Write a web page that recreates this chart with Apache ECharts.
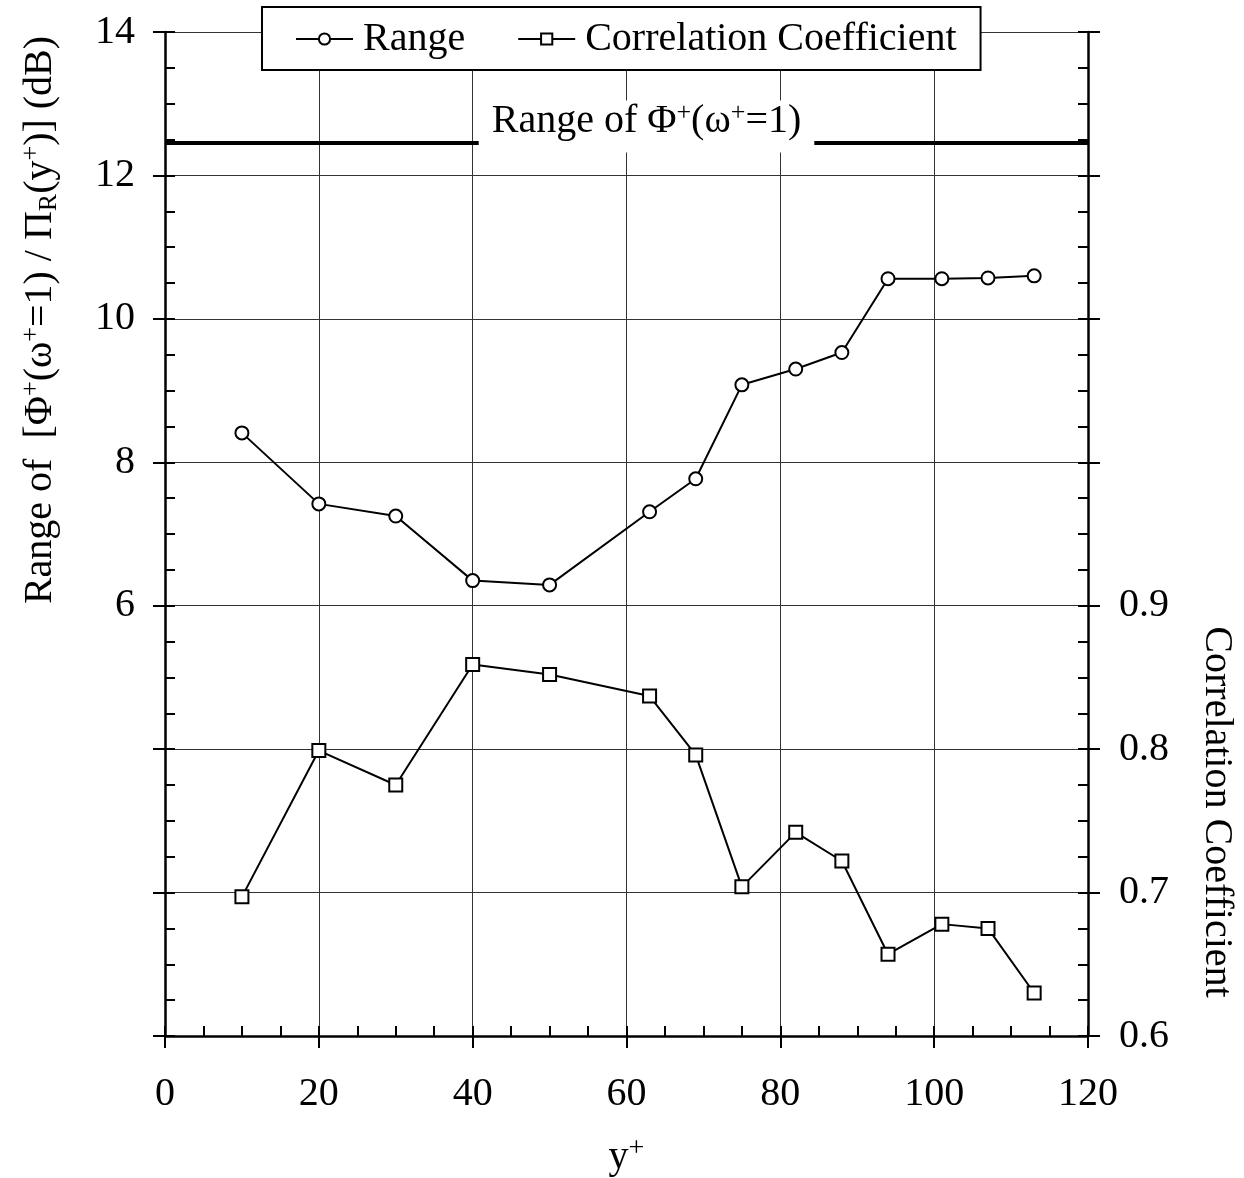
<!DOCTYPE html>
<html>
<head>
<meta charset="utf-8">
<script src="https://cdn.jsdelivr.net/npm/echarts@6/dist/echarts.min.js"></script>
<style>
  html, body { margin: 0; padding: 0; background: #fff; }
  #main { width: 1244px; height: 1178px; }
</style>
</head>
<body>
<div id="main"></div>
<script>
// data
var yPlus = [10, 20, 30, 40, 50, 63, 69, 75, 82, 88, 94, 101, 107, 113];
var rangeDb = [8.41, 7.42, 7.25, 6.35, 6.29, 7.31, 7.77, 9.08, 9.30, 9.53, 10.56, 10.56, 10.57, 10.60];
var corrCoef = [0.697, 0.799, 0.775, 0.859, 0.852, 0.837, 0.796, 0.704, 0.742, 0.722, 0.657, 0.678, 0.675, 0.630];
var phiRange = 12.46;

// tick labels that are shown
var leftLabels = [6, 8, 10, 12, 14];
var rightLabels = [0.6, 0.7, 0.8, 0.9];

var FONT = 'Liberation Serif';

var myChart = echarts.init(document.getElementById('main'));

function pairs(xs, ys) {
    var out = [];
    for (var i = 0; i < xs.length; i++) {
        out.push([xs[i], ys[i]]);
    }
    return out;
}

var tickLine = { color: '#000', width: 2 };
var gridLine = { color: '#333', width: 1 };
var labelStyle = { fontSize: 40, fontFamily: FONT, color: '#000' };

option = {
    animation: false,
    grid: {
        left: 165,
        right: 156,
        top: 32,
        bottom: 142,
        outerBoundsMode: 'none'
    },
    legend: {
        left: 262,
        top: 7,
        padding: [12, 24, 11, 33],
        itemGap: 52,
        itemWidth: 57,
        itemHeight: 14,
        backgroundColor: '#fff',
        borderColor: '#000',
        borderWidth: 2,
        textStyle: { fontSize: 40, fontFamily: FONT, color: '#000', padding: [0, 0, 0, 5] },
        data: ['Range', 'Correlation Coefficient']
    },
    xAxis: [{
        type: 'value',
        min: 0,
        max: 120,
        interval: 20,
        position: 'bottom',
        name: '{a|y}{s|+}',
        nameLocation: 'middle',
        nameGap: 99,
        nameTextStyle: {
            rich: {
                a: { fontSize: 40, fontFamily: FONT, color: '#000', lineHeight: 44 },
                s: { fontSize: 28, fontFamily: FONT, color: '#000', lineHeight: 26, verticalAlign: 'top' }
            }
        },
        axisLine: { onZero: false, lineStyle: { color: '#000', width: 2.5 } },
        axisTick: { inside: true, length: 10, lineStyle: tickLine },
        minorTick: { show: true, splitNumber: 4, length: 10, lineStyle: tickLine },
        splitLine: { show: true, lineStyle: gridLine },
        axisLabel: Object.assign({ margin: 38 }, labelStyle)
    }, {
        // outer half of the major ticks
        type: 'value',
        min: 0,
        max: 120,
        interval: 20,
        position: 'bottom',
        axisLine: { show: false, onZero: false },
        axisTick: { inside: false, length: 12, lineStyle: tickLine },
        splitLine: { show: false },
        axisLabel: { show: false }
    }],
    yAxis: [{
        type: 'value',
        min: 0,
        max: 14,
        interval: 2,
        position: 'left',
        axisLine: { show: true, onZero: false, lineStyle: { color: '#000', width: 2.5 } },
        axisTick: { inside: true, length: 10, lineStyle: tickLine },
        minorTick: { show: true, splitNumber: 4, length: 10, lineStyle: tickLine },
        splitLine: { show: true, lineStyle: gridLine },
        axisLabel: Object.assign({
            margin: 30,
            formatter: function (v) {
                return leftLabels.indexOf(v) >= 0 ? String(v) : '';
            }
        }, labelStyle)
    }, {
        type: 'value',
        min: 0.6,
        max: 1.3,
        interval: 0.1,
        position: 'right',
        axisLine: { show: true, onZero: false, lineStyle: { color: '#000', width: 2.5 } },
        axisTick: { inside: true, length: 10, lineStyle: tickLine },
        minorTick: { show: true, splitNumber: 4, length: 10, lineStyle: tickLine },
        splitLine: { show: false },
        axisLabel: Object.assign({
            margin: 31,
            formatter: function (v) {
                var hit = rightLabels.some(function (l) { return Math.abs(l - v) < 1e-6; });
                return hit ? v.toFixed(1) : '';
            }
        }, labelStyle)
    }, {
        type: 'value',
        min: 0,
        max: 14,
        interval: 2,
        position: 'left',
        axisLine: { show: false, onZero: false },
        axisTick: { inside: false, length: 12, lineStyle: tickLine },
        splitLine: { show: false },
        axisLabel: { show: false }
    }, {
        type: 'value',
        min: 0.6,
        max: 1.3,
        interval: 0.1,
        position: 'right',
        axisLine: { show: false, onZero: false },
        axisTick: { inside: false, length: 12, lineStyle: tickLine },
        splitLine: { show: false },
        axisLabel: { show: false }
    }],
    graphic: [{
        type: 'text',
        x: 40,
        y: 320,
        rotation: Math.PI / 2,
        style: {
            text: '{a|Range of  [Φ}{s|+}{a|(ω}{s|+}{a|=1) / Π}{b|R}{a|(y}{s|+}{a|)] (dB)}',
            textAlign: 'center',
            textVerticalAlign: 'middle',
            rich: {
                a: { fontSize: 40, fontFamily: FONT, fill: '#000', lineHeight: 44 },
                s: { fontSize: 26, fontFamily: FONT, fill: '#000', lineHeight: 26, verticalAlign: 'top' },
                b: { fontSize: 26, fontFamily: FONT, fill: '#000', lineHeight: 26, verticalAlign: 'bottom' }
            }
        }
    }, {
        type: 'text',
        x: 1216,
        y: 812,
        rotation: -Math.PI / 2,
        style: {
            text: 'Correlation Coefficient',
            textAlign: 'center',
            textVerticalAlign: 'middle',
            fontSize: 40,
            fontFamily: FONT,
            fill: '#000'
        }
    }],
    series: [{
        name: 'Range',
        type: 'line',
        xAxisIndex: 0,
        yAxisIndex: 0,
        symbol: 'circle',
        symbolSize: 13,
        lineStyle: { color: '#000', width: 2 },
        itemStyle: { color: '#fff', borderColor: '#000', borderWidth: 2 },
        data: pairs(yPlus, rangeDb),
        markLine: {
            silent: true,
            symbol: ['none', 'none'],
            lineStyle: { color: '#000', width: 4, type: 'solid' },
            label: {
                show: true,
                position: 'middle',
                distance: 0,
                offset: [20, 10],
                backgroundColor: '#fff',
                padding: [0, 13, 10, 13],
                formatter: '{a|Range of Φ}{s|+}{a|(ω}{s|+}{a|=1)}',
                rich: {
                    a: { fontSize: 40, fontFamily: FONT, color: '#000', lineHeight: 42 },
                    s: { fontSize: 26, fontFamily: FONT, color: '#000', lineHeight: 26, verticalAlign: 'top' }
                }
            },
            data: [{ yAxis: phiRange }]
        }
    }, {
        name: 'Correlation Coefficient',
        type: 'line',
        xAxisIndex: 0,
        yAxisIndex: 1,
        symbol: 'rect',
        symbolSize: 13,
        lineStyle: { color: '#000', width: 2 },
        itemStyle: { color: '#fff', borderColor: '#000', borderWidth: 2 },
        data: pairs(yPlus, corrCoef)
    }]
};

myChart.setOption(option);
</script>
</body>
</html>
